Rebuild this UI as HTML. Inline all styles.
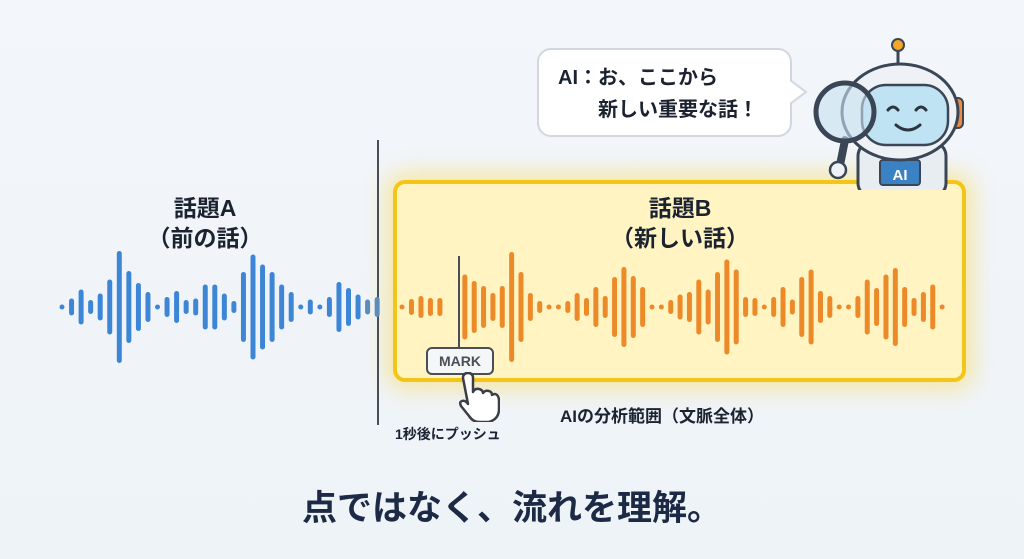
<!DOCTYPE html>
<html><head><meta charset="utf-8"><style>
*{margin:0;padding:0;box-sizing:border-box}
body{width:1024px;height:559px;overflow:hidden;background:linear-gradient(180deg,#f3f6fa,#eef3f8);position:relative;font-family:"Liberation Sans","Noto Sans CJK JP",sans-serif;color:#1b2230}
.t{position:absolute;font-weight:bold;text-align:center}
</style></head><body>
<div style="position:absolute;left:393px;top:180px;width:573px;height:202px;border:4px solid #f4c516;border-radius:12px;background:#fff4c2;box-shadow:0 0 22px 8px rgba(250,215,70,.45)"></div>
<div style="position:absolute;left:377px;top:140px;width:2px;height:285px;background:#4a4e56"></div>
<div style="position:absolute;left:458px;top:256px;width:2px;height:94px;background:#4a4e56"></div>
<svg id="w" width="1024" height="559" style="position:absolute;left:0;top:0"></svg>
<div class="t" style="left:130px;top:193px;width:150px;font-size:23px;line-height:30px">話題A<br>（前の話）</div>
<div class="t" style="left:580px;top:193px;width:200px;font-size:23px;line-height:30px">話題B<br>（新しい話）</div>
<div style="position:absolute;left:426px;top:347px;width:68px;height:28px;border:2px solid #4a4e56;border-radius:6px;background:#f4f6f8;font-weight:bold;font-size:14px;color:#4a4e56;text-align:center;line-height:24px">MARK</div>
<svg width="50" height="50" style="position:absolute;left:450px;top:372px" viewBox="0 0 50 50"><path d="M13 6 q0-5 5-5 q5 0 5 5 v14 q2-4 6-3 q4 1 4 4 q2-3 6-2 q3 1 3 4 q3-2 5 0 q2 2 2 6 v8 q0 10-10 13 h-10 q-6 0-10-6 l-8-10 q-2-4 1-5 q3-1 6 3 z" fill="#fff" stroke="#3a3e46" stroke-width="2.5" stroke-linejoin="round"/></svg>
<div class="t" style="left:395px;top:424px;width:140px;font-size:14px;text-align:left">1秒後にプッシュ</div>
<div class="t" style="left:560px;top:402px;width:260px;font-size:17px;text-align:left">AIの分析範囲（文脈全体）</div>
<div style="position:absolute;left:537px;top:48px;width:255px;height:89px;border:2px solid #d2d7de;border-radius:14px;background:#fff"></div>
<svg width="20" height="30" style="position:absolute;left:790px;top:78px"><path d="M0 2 L16 14 L0 26" fill="#fff" stroke="#d2d7de" stroke-width="2"/></svg>
<div class="t" style="left:558px;top:62px;width:240px;font-size:20px;line-height:32px;text-align:left">AI：お、ここから<br><span style="padding-left:40px">新しい重要な話！</span></div>
<svg width="170" height="160" style="position:absolute;left:800px;top:30px" viewBox="0 0 170 160">
<line x1="98" y1="20" x2="98" y2="35" stroke="#3a4656" stroke-width="3"/><circle cx="98" cy="15" r="6" fill="#f5a623" stroke="#3a4656" stroke-width="2"/>
<rect x="58" y="112" width="88" height="55" rx="14" fill="#e8edf2" stroke="#3a4656" stroke-width="3"/>
<rect x="80" y="130" width="40" height="25" rx="3" fill="#3b82c4" stroke="#3a4656" stroke-width="2"/>
<text x="100" y="150" font-size="15" font-weight="bold" fill="#fff" text-anchor="middle" font-family="Liberation Sans">AI</text>
<rect x="150" y="68" width="13" height="30" rx="5" fill="#f08a3c" stroke="#3a4656" stroke-width="2"/>
<ellipse cx="100" cy="82" rx="58" ry="48" fill="#eef2f6" stroke="#3a4656" stroke-width="3"/>
<rect x="62" y="55" width="86" height="60" rx="24" fill="#bfe3f3" stroke="#3a4656" stroke-width="2.5"/>
<path d="M88 80 q5-6 10 0 M116 80 q5-6 10 0 M96 95 q12 10 24 0" fill="none" stroke="#2c3440" stroke-width="3" stroke-linecap="round"/>
<line x1="45" y1="110" x2="40" y2="135" stroke="#3a4656" stroke-width="8" stroke-linecap="round"/>
<circle cx="38" cy="140" r="8" fill="#eef2f6" stroke="#3a4656" stroke-width="2.5"/>
<circle cx="45" cy="82" r="29" fill="rgba(200,225,240,.6)" stroke="#3a4656" stroke-width="5"/>
</svg>
<div class="t" style="left:0;top:480px;width:1024px;font-size:35px;color:#1d2a45">点ではなく、流れを理解。</div>
<script>
var s=document.getElementById('w'),h='';
var L=[4,17,35,14,27,55,112,72,48,30,4,20,32,14,17,45,45,27,12,70,105,85,70,45,30,4,15,4,20,50,38,25,15,20];
for(var i=0;i<L.length;i++){var x=62+i*9.55;var hh=Math.max(L[i],5);h+='<rect x="'+(x-2.5)+'" y="'+(307-hh/2)+'" width="5" height="'+hh+'" rx="2.5" fill="'+(i>31?'#5b8db8':'#3d86d6')+'"/>';}
var O=[4,16,22,18,18,0,65,52,42,28,42,110,70,28,12,4,4,12,28,18,40,22,60,80,62,40,4,4,14,25,30,55,35,70,95,75,20,18,4,20,40,15,60,75,32,22,4,4,22,55,38,65,78,40,18,30,45,4];
var x0=402,st=(942-402)/(O.length-1);
for(var i=0;i<O.length;i++){if(!O[i])continue;var x=x0+i*st;if(i>5)x+=6*(1-(i-6)/(O.length-6));var hh=Math.max(O[i],5);h+='<rect x="'+(x-2.5)+'" y="'+(307-hh/2)+'" width="5" height="'+hh+'" rx="2.5" fill="#ec8a2a"/>';}
s.innerHTML=h;
</script>
</body></html>
